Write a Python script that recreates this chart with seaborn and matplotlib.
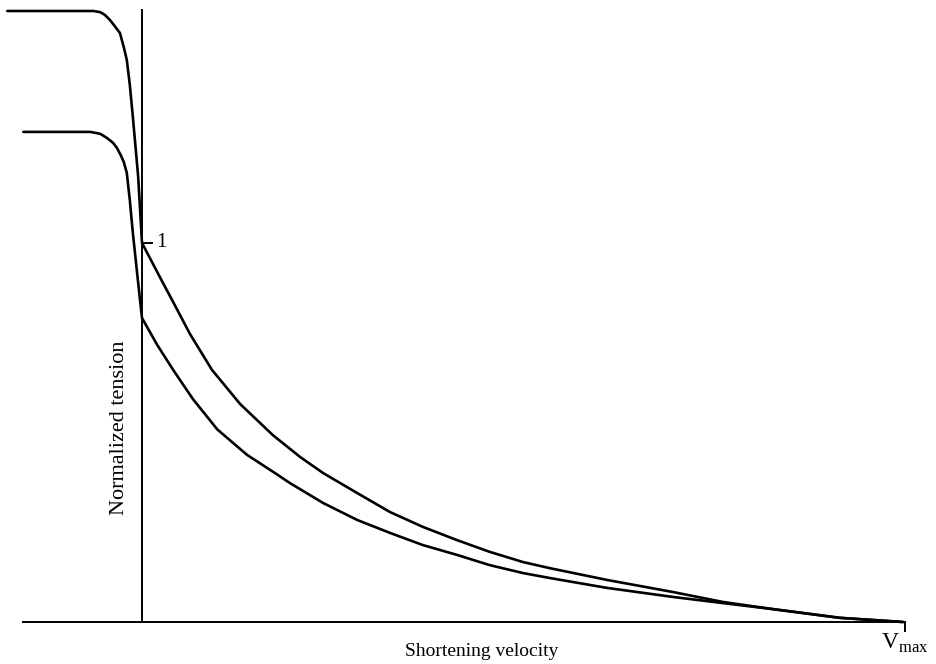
import matplotlib
matplotlib.use('Agg')
import matplotlib.pyplot as plt
import seaborn as sns
import pandas as pd

# Courbes force-vitesse (vitesse normalisée par Vmax)
velocity_upper = [-0.177, -0.064, -0.055, -0.049, -0.042, -0.035, -0.029, -0.024, -0.020,
                  -0.016, -0.012, -0.005, 0.0, 0.024, 0.041, 0.063, 0.092, 0.129, 0.172,
                  0.208, 0.238, 0.283, 0.326, 0.369, 0.414, 0.457, 0.501, 0.536, 0.611,
                  0.698, 0.763, 0.829, 0.917, 1.0]
tension_upper = [1.612, 1.612, 1.609, 1.602, 1.588, 1.570, 1.554, 1.517, 1.483,
                 1.417, 1.332, 1.174, 1.0, 0.908, 0.844, 0.760, 0.665, 0.575, 0.493,
                 0.435, 0.393, 0.340, 0.290, 0.251, 0.216, 0.185, 0.158, 0.142, 0.111,
                 0.079, 0.053, 0.034, 0.011, 0.0]

velocity_lower = [-0.156, -0.068, -0.055, -0.046, -0.038, -0.033, -0.028, -0.024, -0.020,
                  -0.016, -0.012, -0.005, 0.0, 0.020, 0.041, 0.067, 0.099, 0.138, 0.177,
                  0.194, 0.238, 0.283, 0.326, 0.369, 0.414, 0.457, 0.501, 0.536, 0.611,
                  0.698, 0.763, 0.829, 0.917, 1.0]
tension_lower = [1.293, 1.293, 1.288, 1.277, 1.264, 1.251, 1.232, 1.214, 1.185,
                 1.113, 1.026, 0.894, 0.802, 0.731, 0.665, 0.588, 0.508, 0.441, 0.390,
                 0.367, 0.314, 0.269, 0.235, 0.203, 0.177, 0.150, 0.129, 0.116, 0.090,
                 0.066, 0.050, 0.034, 0.011, 0.0]

x_label = "Shortening velocity"
y_label = "Normalized tension"
vmax_label = r"V$_{\mathrm{max}}$"

sns.set_style("white")
plt.rcParams['font.family'] = ['Liberation Serif', 'DejaVu Serif']
plt.rcParams['mathtext.fontset'] = 'custom'
plt.rcParams['mathtext.rm'] = 'Liberation Serif'
plt.rcParams['text.color'] = 'black'

df = pd.concat([
    pd.DataFrame({'v': velocity_upper, 'T': tension_upper, 'curve': 'upper'}),
    pd.DataFrame({'v': velocity_lower, 'T': tension_lower, 'curve': 'lower'}),
])

fig = plt.figure(figsize=(9.37, 6.64), dpi=100)
ax = fig.add_axes([0, 0, 1, 1])

sns.lineplot(data=df, x='v', y='T', units='curve', estimator=None, sort=False,
             color='black', linewidth=1.9, ax=ax)

ax.set_xlim(-0.1866, 1.0447)
ax.set_ylim(-0.1108, 1.641)

# axes croisées à l'origine
for side in ['top', 'right']:
    ax.spines[side].set_visible(False)
ax.spines['left'].set_position(('data', 0))
ax.spines['bottom'].set_position(('data', 0))
ax.spines['left'].set_bounds(0, 1.615)
ax.spines['bottom'].set_bounds(-0.156, 1.003)
for side in ['left', 'bottom']:
    ax.spines[side].set_linewidth(1.4)
    ax.spines[side].set_color('black')

ax.set_yticks([1.0])
ax.set_yticklabels([])
ax.tick_params(axis='y', left=True, direction='in', length=8, width=1.4, color='black')
ax.set_xticks([1.003])
ax.set_xticklabels([vmax_label], fontsize=17, color='black')
ax.tick_params(axis='x', bottom=True, direction='out', length=7, width=1.4,
               color='black', pad=0, labelcolor='black')

ax.text(0.018, 1.0, "1", fontsize=15, ha='left', va='center')
ax.text(0.447, -0.077, x_label, fontsize=14, ha='center', va='center')
ax.text(-0.029, 0.512, y_label, fontsize=16, ha='center', va='center', rotation=90)

ax.set_xlabel('')
ax.set_ylabel('')
if ax.get_legend():
    ax.get_legend().remove()

plt.savefig("out.png", dpi=100)
